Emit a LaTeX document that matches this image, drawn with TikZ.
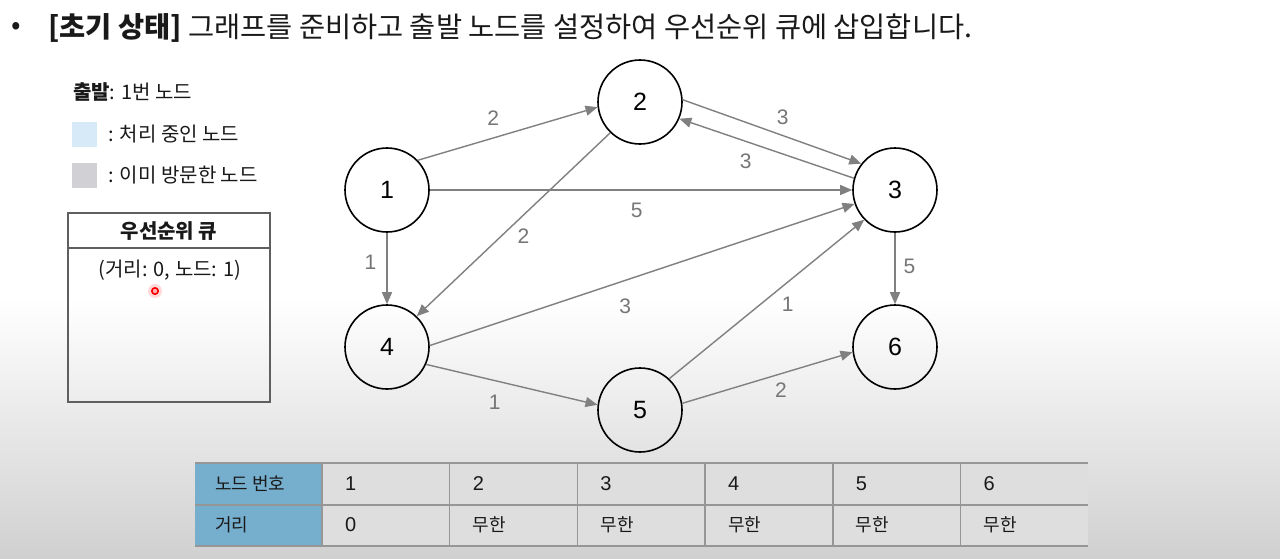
\documentclass[tikz,border=0pt]{standalone}
\usepackage{fontspec}
\setmainfont{Noto Sans CJK KR}
\newfontfamily\numfont{Liberation Sans}
\usetikzlibrary{
  arrows.meta,
  positioning,
  calc,
}
\definecolor{edgecol}{RGB}{128,128,128}
\definecolor{labelcol}{RGB}{118,118,118}
\definecolor{curblue}{RGB}{214,234,248}
\definecolor{visgray}{RGB}{208,208,213}
\definecolor{boxcol}{RGB}{95,95,95}
\definecolor{headblue}{RGB}{118,174,206}
\definecolor{cellgray}{RGB}{222,222,222}
\definecolor{tlinecol}{RGB}{150,150,150}
\definecolor{bgbottom}{RGB}{208,208,208}
\definecolor{textcol}{RGB}{25,25,25}
\tikzset{
  vnode/.style={
    circle, draw=black, line width=0.8pt, minimum size=42pt,
    inner sep=0pt, font=\numfont\fontsize{12.5}{14}\selectfont
  },
  wedge/.style={-{Triangle[length=6pt,width=5pt]}, draw=edgecol, line width=0.7pt},
  wlabel/.style={font=\numfont\fontsize{10.5}{12}\selectfont, text=labelcol, inner sep=1pt},
  legbox/.style={rectangle, minimum size=12.5pt, inner sep=0pt},
  legtext/.style={anchor=west, font=\fontsize{10}{12}\selectfont, text=textcol},
  qbox/.style={rectangle, draw=boxcol, line width=1pt, minimum width=101pt, minimum height=94.5pt},
  tline/.style={draw=tlinecol, line width=0.7pt},
  celltxt/.style={anchor=west, font=\fontsize{9}{11}\selectfont, text=textcol},
  cellnum/.style={anchor=west, font=\numfont\fontsize{10}{12}\selectfont, text=textcol},
}
\begin{document}
\begin{tikzpicture}[x=0.5pt, y=-0.5pt]
  \useasboundingbox (0,0) rectangle (1280,558);

  % ── Background ──
  \fill[white] (0,0) rectangle (1280,300);
  \shade[top color=white, bottom color=bgbottom] (0,299) rectangle (1280,558);

  % ── Title ──
  \node[font=\fontsize{14}{16}\selectfont, text=textcol] (bullet) at (16,28) {•};
  \node[anchor=west, font=\fontsize{14.2}{16}\selectfont, text=textcol] (title) at (41,28)
    {\textbf{[초기 상태]} 그래프를 준비하고 출발 노드를 설정하여 우선순위 큐에 삽입합니다.};

  % ── Legend ──
  \node[legtext] (start) at (66,92) {\textbf{출발}: 1번 노드};
  \node[legbox, fill=curblue] (curkey) at (84.5,134) {};
  \node[legtext, right=2pt of curkey] (curtext) {: 처리 중인 노드};
  \node[legbox, fill=visgray] (viskey) at (84.5,175.5) {};
  \node[legtext, right=2pt of viskey] (vistext) {: 이미 방문한 노드};

  % ── Priority queue ──
  \node[qbox] (queue) at (169,307.5) {};
  \draw[draw=boxcol, line width=1pt]
    ($(queue.north west)+(0,36)$) -- ($(queue.north east)+(0,36)$);
  \node[font=\bfseries\fontsize{10}{12}\selectfont, text=textcol] (qhead) at (169,231) {우선순위 큐};
  \node[font=\fontsize{10}{12}\selectfont, text=textcol] (qitem) at (170,270) {(거리: 0, 노드: 1)};
  \fill[red!25, opacity=0.6] (155,291) circle (3.5pt);
  \draw[red, line width=0.8pt, fill=red!30] (155,291) circle (1.6pt);

  % ── Graph nodes ──
  \node[vnode] (n1) at (387,190) {1};
  \node[vnode] (n2) at (640,102) {2};
  \node[vnode] (n3) at (895,190) {3};
  \node[vnode] (n4) at (387,347) {4};
  \node[vnode] (n5) at (640,410) {5};
  \node[vnode] (n6) at (895,347) {6};

  % ── Weighted edges ──
  \draw[wedge] (n1.44) -- (n2.187) node[wlabel, pos=.42, above=5pt] {2};
  \draw[wedge] (n2.3) -- (n3.142) node[wlabel, pos=.56, above=4pt] {3};
  \draw[wedge] (n3.164) -- (n2.-23) node[wlabel, pos=.62, below=5pt] {3};
  \draw[wedge] (n1.east) -- (n3.west) node[wlabel, pos=.49, below=5pt] {5};
  \draw[wedge] (n2.-134) -- (n4.46) node[wlabel, pos=.5, below right=1pt] {2};
  \draw[wedge] (n1.south) -- (n4.north) node[wlabel, pos=.41, left=4pt] {1};
  \draw[wedge] (n4.2) -- (n3.199) node[wlabel, pos=.46, below=8pt] {3};
  \draw[wedge] (n4.-24) -- (n5.173) node[wlabel, pos=.4, below=6pt] {1};
  \draw[wedge] (n5.47) -- (n3.-136) node[wlabel, pos=.55, below right=2pt] {1};
  \draw[wedge] (n5.9) -- (n6.187) node[wlabel, pos=.58, below=3pt] {2};
  \draw[wedge] (n3.south) -- (n6.north) node[wlabel, pos=.47, right=3pt] {5};

  % ── Distance table ──
  \fill[headblue] (195,463) rectangle (322,546);
  \fill[cellgray] (322,463) rectangle (1088,546);
  \foreach \y in {463,505,546}
    \draw[tline] (195,\y) -- (1088,\y);
  \foreach \k in {0,...,5}
    \draw[tline] ({322+127.7*\k},463) -- ({322+127.7*\k},546);
  \node[celltxt] (hnum) at (208,484) {노드 번호};
  \node[celltxt] (hdist) at (208,525) {거리};
  \node[cellnum] (dist1) at (338,525) {0};
  \foreach \i in {1,...,6}
    \node[cellnum] (num\i) at ({322+127.7*(\i-1)+16},484) {\i};
  \foreach \i in {2,...,6}
    \node[celltxt] (dist\i) at ({322+127.7*(\i-1)+16},525) {무한};

\end{tikzpicture}
\end{document}
